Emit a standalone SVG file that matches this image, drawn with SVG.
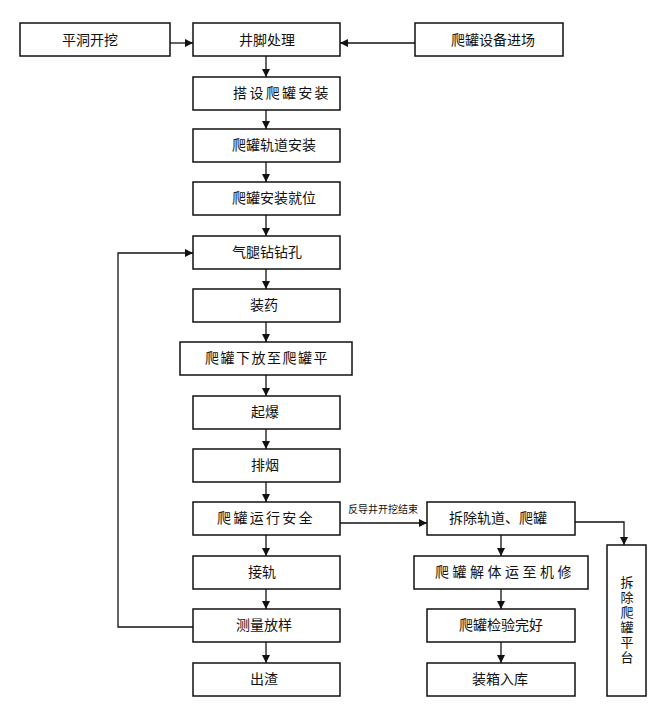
<svg xmlns="http://www.w3.org/2000/svg" width="667" height="710" viewBox="0 0 667 710">
<style>
.box{fill:#fff;stroke:#111;stroke-width:1.5}
.t{font-family:"Liberation Sans","Noto Sans CJK SC",sans-serif;font-size:14px;fill:#111;text-anchor:middle;dominant-baseline:central}
.v{font-family:"Liberation Sans","Noto Sans CJK SC",sans-serif;font-size:13px;fill:#111;text-anchor:middle;dominant-baseline:central}
.lbl{font-family:"Liberation Sans","Noto Sans CJK SC",sans-serif;font-size:10px;fill:#111;text-anchor:middle;dominant-baseline:central}
.c{fill:none;stroke:#111;stroke-width:1.3}
</style>
<defs>
<marker id="ah" viewBox="0 0 10 10" refX="10" refY="5" markerWidth="8" markerHeight="8" markerUnits="userSpaceOnUse" orient="auto">
<path d="M0,0 L10,5 L0,10 Z" fill="#111"/>
</marker>
</defs>
<rect width="667" height="710" fill="#fff"/>
<g id="connectors">
<path class="c" d="M170,43 H193" marker-end="url(#ah)"/>
<path class="c" d="M415,43 H340" marker-end="url(#ah)"/>
<path class="c" d="M266,56 V77" marker-end="url(#ah)"/>
<path class="c" d="M266,110 V129" marker-end="url(#ah)"/>
<path class="c" d="M266,162 V182" marker-end="url(#ah)"/>
<path class="c" d="M266,215 V236" marker-end="url(#ah)"/>
<path class="c" d="M266,269 V289" marker-end="url(#ah)"/>
<path class="c" d="M266,322 V342" marker-end="url(#ah)"/>
<path class="c" d="M266,375 V396" marker-end="url(#ah)"/>
<path class="c" d="M266,429 V449" marker-end="url(#ah)"/>
<path class="c" d="M266,482 V502" marker-end="url(#ah)"/>
<path class="c" d="M266,535 V556" marker-end="url(#ah)"/>
<path class="c" d="M266,589 V609" marker-end="url(#ah)"/>
<path class="c" d="M266,642 V663" marker-end="url(#ah)"/>
<path class="c" d="M193,627 H118 V253 H193" marker-end="url(#ah)"/>
<path class="c" d="M340,523 H427" marker-end="url(#ah)"/>
<text class="lbl" x="383" y="509">反导井开挖结束</text>
<path class="c" d="M501,535 V556" marker-end="url(#ah)"/>
<path class="c" d="M501,589 V609" marker-end="url(#ah)"/>
<path class="c" d="M501,642 V663" marker-end="url(#ah)"/>
<path class="c" d="M575,522 H624 V545" marker-end="url(#ah)"/>
</g>
<g id="n1"><rect class="box" x="20" y="23" width="150" height="33"/><text class="t" x="90" y="40">平洞开挖</text></g>
<g id="n2"><rect class="box" x="193" y="23" width="147" height="33"/><text class="t" x="267" y="40">井脚处理</text></g>
<g id="n3"><rect class="box" x="415" y="23" width="148" height="33"/><text class="t" x="493" y="40">爬罐设备进场</text></g>
<g id="n4"><rect class="box" x="193" y="77" width="147" height="33"/><text class="t" x="282" y="93" style="letter-spacing:2.3px">搭设爬罐安装</text></g>
<g id="n5"><rect class="box" x="193" y="129" width="147" height="33"/><text class="t" x="274" y="145">爬罐轨道安装</text></g>
<g id="n6"><rect class="box" x="193" y="182" width="147" height="33"/><text class="t" x="274" y="198">爬罐安装就位</text></g>
<g id="n7"><rect class="box" x="193" y="236" width="147" height="33"/><text class="t" x="267" y="252">气腿钻钻孔</text></g>
<g id="n8"><rect class="box" x="193" y="289" width="147" height="33"/><text class="t" x="264" y="305">装药</text></g>
<g id="n9"><rect class="box" x="180" y="342" width="172" height="33"/><text class="t" x="267" y="358" style="letter-spacing:1.5px">爬罐下放至爬罐平</text></g>
<g id="n10"><rect class="box" x="193" y="396" width="147" height="33"/><text class="t" x="265" y="412">起爆</text></g>
<g id="n11"><rect class="box" x="193" y="449" width="147" height="33"/><text class="t" x="265" y="465">排烟</text></g>
<g id="n12"><rect class="box" x="193" y="502" width="147" height="33"/><text class="t" x="266" y="518" style="letter-spacing:2.3px">爬罐运行安全</text></g>
<g id="n13"><rect class="box" x="193" y="556" width="147" height="33"/><text class="t" x="262" y="572">接轨</text></g>
<g id="n14"><rect class="box" x="193" y="609" width="147" height="33"/><text class="t" x="264" y="625">测量放样</text></g>
<g id="n15"><rect class="box" x="193" y="663" width="147" height="33"/><text class="t" x="264" y="679">出渣</text></g>
<g id="n16"><rect class="box" x="427" y="502" width="148" height="33"/><text class="t" x="498" y="518">拆除轨道、爬罐</text></g>
<g id="n17"><rect class="box" x="414" y="556" width="174" height="33"/><text class="t" x="505" y="572" style="letter-spacing:3.5px">爬罐解体运至机修</text></g>
<g id="n18"><rect class="box" x="427" y="609" width="148" height="33"/><text class="t" x="501" y="625">爬罐检验完好</text></g>
<g id="n19"><rect class="box" x="427" y="663" width="148" height="33"/><text class="t" x="500" y="679">装箱入库</text></g>
<g id="n20"><rect class="box" x="607" y="545" width="39" height="151"/>
<text class="v" x="627"><tspan x="627" y="582">拆</tspan><tspan x="627" y="597">除</tspan><tspan x="627" y="612">爬</tspan><tspan x="627" y="627">罐</tspan><tspan x="627" y="642">平</tspan><tspan x="627" y="657">台</tspan></text></g>
</svg>
